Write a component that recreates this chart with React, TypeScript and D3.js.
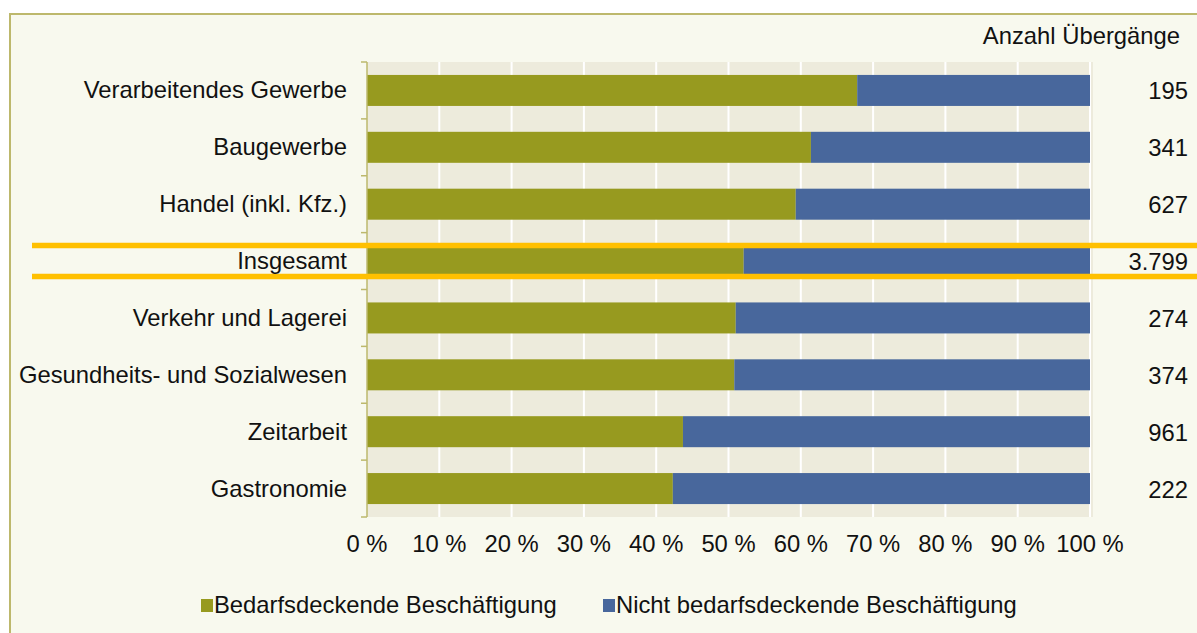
import React from 'react'
import * as d3 from 'd3'

// data
const categories = [
  'Verarbeitendes Gewerbe',
  'Baugewerbe',
  'Handel (inkl. Kfz.)',
  'Insgesamt',
  'Verkehr und Lagerei',
  'Gesundheits- und Sozialwesen',
  'Zeitarbeit',
  'Gastronomie',
]
const bedarfsdeckend = [67.8, 61.4, 59.3, 52.1, 51.0, 50.8, 43.7, 42.3]
const nichtBedarfsdeckend = bedarfsdeckend.map(v => 100 - v)
const anzahl = ['195', '341', '627', '3.799', '274', '374', '961', '222']
const xTicks = [0, 10, 20, 30, 40, 50, 60, 70, 80, 90, 100]
const highlight = 'Insgesamt'

const W = 1197
const H = 633
const FONT = '"Liberation Sans", Arial, sans-serif'
const FS = 23.8
const GREEN = '#979A1F'
const BLUE = '#48679C'
const AXIS = '#BDB86C'

export default function App() {
  const x = d3.scaleLinear().domain([0, 100]).range([367, 1090])
  const y = d3.scaleBand().domain(categories).range([62, 517]).paddingInner(0.455).paddingOuter(0.2275)
  const step = y.step()
  const top = 62

  return (
    <div style={{ position: 'absolute', left: 0, top: 0 }}>
      <svg width={W} height={H} style={{ display: 'block', fontFamily: FONT }}>
        <rect x={0} y={0} width={W} height={H} fill='#fff' />
        <rect x={10} y={14} width={1300} height={700} fill='#F8F9EE' stroke={AXIS} strokeWidth={2} />

        {/* plot area */}
        <rect x={367} y={top} width={726} height={517 - top} fill='#EDEBDC' />
        {xTicks.slice(1).map(t => (
          <line key={t} x1={x(t)} x2={x(t)} y1={top} y2={517} stroke='#fff' strokeWidth={2} />
        ))}

        {categories.map((c, i) => {
          const by = y(c)!
          const bh = y.bandwidth()
          return (
            <g key={c}>
              <rect x={x(0)} y={by} width={x(bedarfsdeckend[i]) - x(0)} height={bh} fill={GREEN} />
              <rect x={x(bedarfsdeckend[i])} y={by} width={x(bedarfsdeckend[i] + nichtBedarfsdeckend[i]) - x(bedarfsdeckend[i])} height={bh} fill={BLUE} />
            </g>
          )
        })}

        {/* category axis */}
        <line x1={367} x2={367} y1={top} y2={517} stroke={AXIS} strokeWidth={1.5} />
        {d3.range(categories.length + 1).map(i => (
          <line key={i} x1={361} x2={367} y1={top + i * step} y2={top + i * step} stroke={AXIS} strokeWidth={1.5} />
        ))}

        {/* highlight lines for Insgesamt */}
        {[y(highlight)!, y(highlight)! + y.bandwidth()].map((ly, i) => (
          <line key={i} x1={32} x2={W} y1={ly} y2={ly} stroke='#FFC000' strokeWidth={5.5} />
        ))}

        {categories.map((c, i) => {
          const cy = y(c)! + y.bandwidth() / 2 + 8
          return (
            <g key={c} fontSize={FS} fill='#111'>
              <text x={347} y={cy} textAnchor='end'>{c}</text>
              <text x={1188} y={cy + 1} textAnchor='end'>{anzahl[i]}</text>
            </g>
          )
        })}

        <text x={1180} y={44} textAnchor='end' fontSize={FS} fill='#111'>Anzahl Übergänge</text>

        {xTicks.map(t => (
          <text key={t} x={x(t)} y={552} textAnchor='middle' fontSize={FS} fill='#111'>{`${t} %`}</text>
        ))}

        {/* legend */}
        <rect x={201} y={599} width={12} height={13} fill={GREEN} />
        <text x={214} y={613} fontSize={FS} fill='#111'>Bedarfsdeckende Beschäftigung</text>
        <rect x={603} y={599} width={12} height={13} fill={BLUE} />
        <text x={616} y={613} fontSize={FS} fill='#111'>Nicht bedarfsdeckende Beschäftigung</text>
      </svg>
    </div>
  )
}
